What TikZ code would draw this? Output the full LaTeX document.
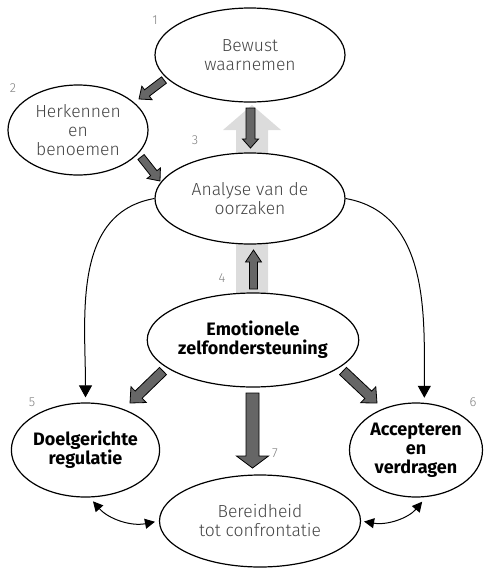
\documentclass[tikz,border=0pt]{standalone}
\usepackage{fontspec}
\setmainfont{Fira Sans}[UprightFont={* Light}, BoldFont={* Bold}]
\usetikzlibrary{shapes.geometric, arrows.meta, calc, backgrounds}

\definecolor{tekstgrijs}{HTML}{454545}
\definecolor{nummergrijs}{HTML}{808080}
\definecolor{pijlgrijs}{HTML}{666666}
\definecolor{achtergrond}{HTML}{DCDCDC}

\tikzset{
  stap/.style={ellipse, draw, line width=1.2pt, fill=white, inner sep=0pt,
    align=center, text=tekstgrijs, font=\fontsize{17.5}{19}\selectfont},
  kern/.style={stap, text=black, font=\fontsize{18}{19}\selectfont\bfseries},
  nummer/.style={text=nummergrijs, font=\fontsize{13}{13}\selectfont},
  donker/.style={fill=pijlgrijs, draw=black, line width=0.8pt},
  licht/.style={fill=achtergrond, draw=none},
  dun/.style={line width=1pt, -{Triangle[width=13pt,length=12pt]}},
  dubbel/.style={line width=1pt, {Triangle[width=10pt,length=10pt]}-{Triangle[width=10pt,length=10pt]}}
}

% thick arrow: [style]{from}{to}{half shaft}{half head}{head length}
\newcommand{\dikkepijl}[6][]{%
  \filldraw[#1] let \p1=($(#3)-(#2)$), \n1={atan2(\y1,\x1)}, \n2={veclen(\x1,\y1)} in
    [shift={(#2)}, rotate=\n1]
    (0,-#4) -- ({\n2-#6},-#4) -- ({\n2-#6},-#5) -- (\n2,0)
    -- ({\n2-#6},#5) -- ({\n2-#6},#4) -- (0,#4) -- cycle;}

\begin{document}
\begin{tikzpicture}[x=1pt, y=-1pt]
    \useasboundingbox (0,0) rectangle (483,568);

    % Nodes
    \node[stap, minimum width=190, minimum height=94] (e1) at (250,55) {Bewust\\waarnemen};
    \node[stap, minimum width=140, minimum height=90] (e2) at (78,130) {Herkennen\\en\\benoemen};
    \node[stap, minimum width=190, minimum height=91] (e3) at (250,198.5) {Analyse van de\\oorzaken};
    \node[kern, minimum width=196, minimum height=94] (e4) at (253,340) {Emotionele\\zelfondersteuning};
    \node[kern, minimum width=141, minimum height=94] (e5) at (85.5,450) {Doelgerichte\\regulatie};
    \node[kern, minimum width=133, minimum height=94] (e6) at (416,450) {Accepteren\\en\\verdragen};
    \node[stap, minimum width=201, minimum height=92] (e7) at (260,521) {Bereidheid\\tot confrontatie};

    % Numbers
    \node[nummer] (n1) at (155,20) {1};
    \node[nummer] (n2) at (13,88) {2};
    \node[nummer] (n3) at (195,140) {3};
    \node[nummer] (n4) at (222,278) {4};
    \node[nummer] (n5) at (32,402) {5};
    \node[nummer] (n6) at (473,402) {6};
    \node[nummer] (n7) at (275,453) {7};

    % Arrow ends
    \coordinate (l4) at (252,293);
    \coordinate (l1) at (252,105);
    \coordinate (a1s) at (164,80);
    \coordinate (a1e) at (139,99);
    \coordinate (a2s) at (141,157);
    \coordinate (a2e) at (160,181);
    \coordinate (a3s) at (250.5,108);
    \coordinate (a3e) at (250.5,148);
    \coordinate (a4s) at (253.5,289);
    \coordinate (a4e) at (253.5,250);
    \coordinate (a5s) at (163,371);
    \coordinate (a5e) at (130,403);
    \coordinate (a6s) at (343,371);
    \coordinate (a6e) at (377,403);
    \coordinate (a7s) at (252.5,393);
    \coordinate (a7e) at (252.5,468);

    % Thick arrows
    \begin{scope}[on background layer]
      \dikkepijl[licht]{l4}{l1}{16}{29}{25}
    \end{scope}
    \dikkepijl[donker]{a1s}{a1e}{4}{8.5}{10}
    \dikkepijl[donker]{a2s}{a2e}{4}{8.5}{10}
    \dikkepijl[donker]{a3s}{a3e}{4.5}{8}{9}
    \dikkepijl[donker]{a4s}{a4e}{4}{8}{12}
    \dikkepijl[donker]{a5s}{a5e}{5}{11}{12}
    \dikkepijl[donker]{a6s}{a6e}{5}{11}{12}
    \dikkepijl[donker]{a7s}{a7e}{6.5}{16}{12}

    % Thin arrows
    \draw[dun, shorten >=5pt] (e3.west) to[out=190, in=90] (e5.north);
    \draw[dun, shorten >=5pt] (e3.east) to[out=-10, in=90] (e6.80);
    \draw[dubbel, shorten <=5pt, shorten >=4pt] (e5.-85) to[bend right=30] (e7.west);
    \draw[dubbel, shorten <=3pt, shorten >=6pt] (e7.east) to[bend right=30] (e6.-78);
\end{tikzpicture}
\end{document}
